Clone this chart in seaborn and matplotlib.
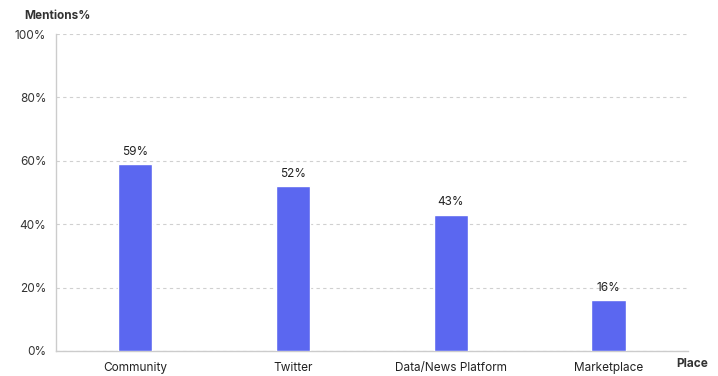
import matplotlib
matplotlib.use('Agg')
import matplotlib.pyplot as plt
import seaborn as sns
import pandas as pd

# Dados do gráfico
places = ['Community', 'Twitter', 'Data/News Platform', 'Marketplace']
mentions = [59, 52, 43, 16]
y_ticks = [0, 20, 40, 60, 80, 100]

df = pd.DataFrame({'place': places, 'mentions': mentions})

sns.set_style('white')
plt.rcParams['font.family'] = ['Inter', 'DejaVu Sans']

fig = plt.figure(figsize=(7.18, 3.76), dpi=100)
ax = fig.add_axes([0.078, 0.0665, 0.88, 0.843])

sns.barplot(data=df, x='place', y='mentions', color='#5B67F0', width=0.22,
            saturation=1, ax=ax, zorder=3)

for i, v in enumerate(mentions):
    ax.text(i, v + 2, f'{v}%', ha='center', va='bottom', fontsize=8.5, color='#222222')

ax.set_ylim(0, 100)
ax.set_xlim(-0.5, 3.5)
ax.set_yticks(y_ticks)
ax.set_yticklabels([f'{t}%' for t in y_ticks])
ax.yaxis.grid(True, linestyle=(0, (3, 3)), color='#d0d0d0', linewidth=0.8, zorder=0)
ax.tick_params(axis='y', length=4, color='#cccccc', labelsize=8.5, labelcolor='#333333', pad=3)
ax.tick_params(axis='x', length=0, labelsize=8.5, labelcolor='#222222', pad=8)
ax.set_xlabel('')
ax.set_ylabel('')

for s in ['top', 'right']:
    ax.spines[s].set_visible(False)
for s in ['left', 'bottom']:
    ax.spines[s].set_color('#cccccc')
    ax.spines[s].set_linewidth(1)

fig.text(24 / 718, 1 - 16 / 376, 'Mentions%', fontsize=8.5, fontweight='bold',
         color='#333333', va='center', ha='left')
fig.text(708 / 718, 1 - 364 / 376, 'Place', fontsize=8.5, fontweight='bold',
         color='#333333', va='center', ha='right')

plt.savefig('out.png', dpi=100)
plt.close()
